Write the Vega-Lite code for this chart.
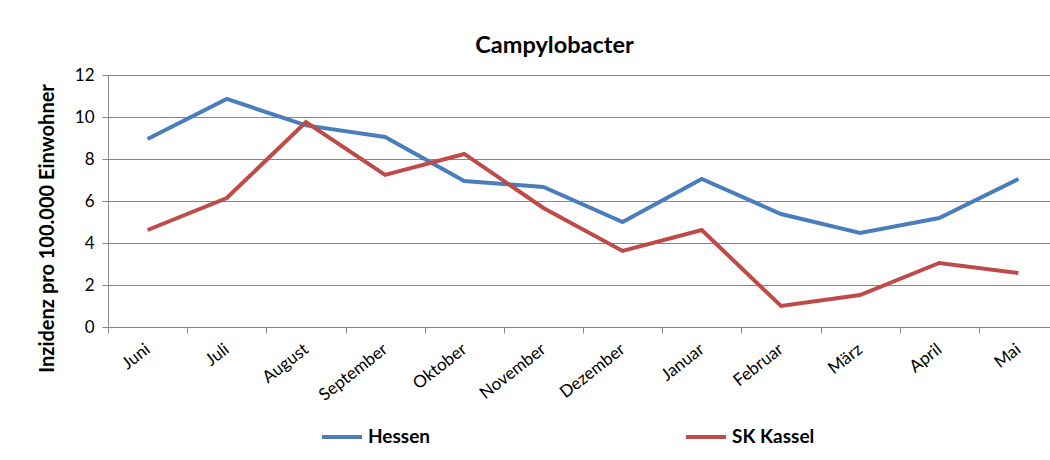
{
  "$schema": "https://vega.github.io/schema/vega-lite/v6.json",
  "autosize": "none",
  "width": 941,
  "height": 252,
  "padding": {"left": 108, "top": 75, "right": 1, "bottom": 133},
  "background": "white",
  "title": {"text": "Campylobacter", "font": "Lato", "fontSize": 23.5, "fontWeight": "bold", "color": "#000000", "offset": 9, "dx": -24, "anchor": "middle"},
  "data": {"values": [
    {"Monat": "Juni", "Region": "Hessen", "Wert": 8.95},
    {"Monat": "Juli", "Region": "Hessen", "Wert": 10.86},
    {"Monat": "August", "Region": "Hessen", "Wert": 9.6},
    {"Monat": "September", "Region": "Hessen", "Wert": 9.05},
    {"Monat": "Oktober", "Region": "Hessen", "Wert": 6.95},
    {"Monat": "November", "Region": "Hessen", "Wert": 6.67},
    {"Monat": "Dezember", "Region": "Hessen", "Wert": 5.0},
    {"Monat": "Januar", "Region": "Hessen", "Wert": 7.05},
    {"Monat": "Februar", "Region": "Hessen", "Wert": 5.38},
    {"Monat": "März", "Region": "Hessen", "Wert": 4.48},
    {"Monat": "April", "Region": "Hessen", "Wert": 5.19},
    {"Monat": "Mai", "Region": "Hessen", "Wert": 7.05},
    {"Monat": "Juni", "Region": "SK Kassel", "Wert": 4.62},
    {"Monat": "Juli", "Region": "SK Kassel", "Wert": 6.14},
    {"Monat": "August", "Region": "SK Kassel", "Wert": 9.76},
    {"Monat": "September", "Region": "SK Kassel", "Wert": 7.24},
    {"Monat": "Oktober", "Region": "SK Kassel", "Wert": 8.24},
    {"Monat": "November", "Region": "SK Kassel", "Wert": 5.67},
    {"Monat": "Dezember", "Region": "SK Kassel", "Wert": 3.62},
    {"Monat": "Januar", "Region": "SK Kassel", "Wert": 4.62},
    {"Monat": "Februar", "Region": "SK Kassel", "Wert": 1.0},
    {"Monat": "März", "Region": "SK Kassel", "Wert": 1.52},
    {"Monat": "April", "Region": "SK Kassel", "Wert": 3.05},
    {"Monat": "Mai", "Region": "SK Kassel", "Wert": 2.57}
  ]},
  "mark": {"type": "line", "strokeWidth": 4, "strokeJoin": "miter"},
  "encoding": {
    "x": {
      "field": "Monat", "type": "nominal", "sort": null,
      "scale": {"paddingInner": 0, "paddingOuter": 0, "range": [0, 950]},
      "axis": {
        "title": null, "labelAngle": -38, "labelAlign": "right", "labelBaseline": "middle",
        "labelFont": "Lato", "labelFontSize": 17, "labelColor": "#000000", "labelPadding": 14,
        "tickBand": "extent", "tickSize": 6, "tickColor": "#868686", "domainColor": "#868686",
        "grid": false
      }
    },
    "y": {
      "field": "Wert", "type": "quantitative",
      "scale": {"domain": [0, 12], "nice": false},
      "axis": {
        "title": "Inzidenz pro 100.000 Einwohner", "titleFont": "Lato", "titleFontSize": 20, "titleFontWeight": "bold",
        "titleColor": "#000000", "titlePadding": 17, "titleY": 153,
        "values": [0, 2, 4, 6, 8, 10, 12], "labelFont": "Lato", "labelFontSize": 17, "labelColor": "#000000",
        "labelPadding": 8, "tickSize": 6, "tickColor": "#868686", "domainColor": "#868686",
        "grid": true, "gridColor": "#868686", "gridWidth": 1
      }
    },
    "color": {
      "field": "Region", "type": "nominal",
      "scale": {"domain": ["Hessen", "SK Kassel"], "range": ["#4A7EBB", "#BE4B48"]},
      "legend": {
        "title": null, "orient": "none", "legendX": 212, "legendY": 340, "direction": "horizontal",
        "symbolType": "stroke", "symbolStrokeWidth": 4, "symbolSize": 1600,
        "labelFont": "Lato", "labelFontSize": 19, "labelFontWeight": "bold", "labelColor": "#000000",
        "columnPadding": 247
      }
    }
  },
  "config": {"view": {"stroke": null}}
}
